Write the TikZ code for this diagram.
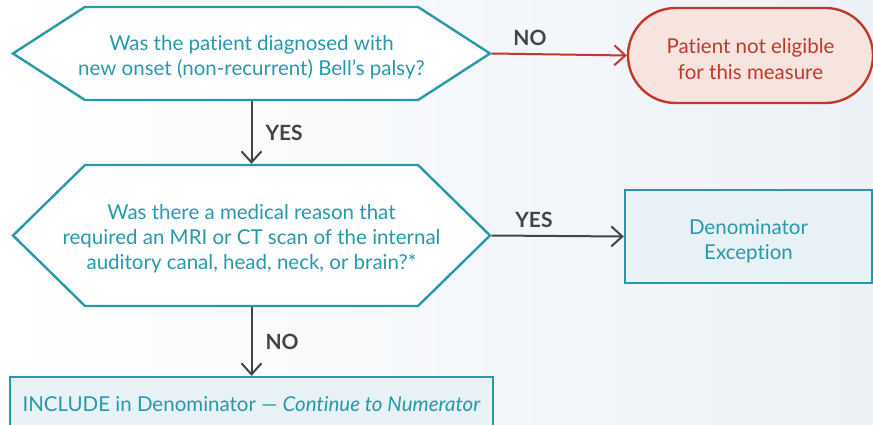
\documentclass[tikz,border=0pt]{standalone}
\usepackage{fontspec}
\setmainfont{Lato}[Ligatures=NoCommon]
\usetikzlibrary{arrows.meta,shapes.symbols}
\definecolor{qteal}{RGB}{38,154,170}
\definecolor{qred}{RGB}{192,57,43}
\definecolor{qpink}{RGB}{248,228,222}
\definecolor{qblue}{RGB}{232,241,245}
\definecolor{qgray}{RGB}{68,68,68}
\newcommand{\qstrut}{\rule{0pt}{22pt}}

\begin{document}
\begin{tikzpicture}[x=1pt,y=-1pt,
  question/.style={shape=signal, signal to=east and west, draw=qteal, line width=2.4pt,
    fill=white, text=qteal, align=center, inner xsep=-40pt, inner ysep=0pt, minimum width=477pt,
    font=\fontsize{20.5}{25}\selectfont},
  outbox/.style={draw=qteal, line width=2.4pt, fill=qblue, text=qteal, align=center,
    font=\fontsize{20.5}{25}\selectfont},
  flow/.style={draw=qgray, line width=2pt, -{Straight Barb[length=11pt,width=20pt,line width=2pt]}},
  answer/.style={text=qgray, inner sep=3pt, font=\bfseries\fontsize{21}{24}\selectfont}]
  \fill[left color=white, right color={rgb,255:red,236;green,241;blue,246}] (0,0) rectangle (873,425);
  \useasboundingbox (0,0) rectangle (873,425);
  \node[question, minimum height=93pt, signal pointer angle=65.8] (bells) at (251.5,53.5)
    {\qstrut Was the patient diagnosed with\\new onset (non-recurrent) Bell’s palsy?};
  \node[question, minimum height=141pt, signal pointer angle=88.8] (imaging) at (251.5,235.5)
    {\qstrut Was there a medical reason that\\required an MRI or CT scan of the internal\\auditory canal, head, neck, or brain?*};
  \node[draw=qred, line width=2.4pt, fill=qpink, text=qred, align=center, rounded corners=47.5pt,
    minimum width=245pt, minimum height=95pt, font=\fontsize{20.5}{26}\selectfont] (noteligible) at (750.5,55.5)
    {\qstrut Patient not eligible\\for this measure};
  \node[outbox, minimum width=247pt, minimum height=93pt] (exception) at (748.5,236.5)
    {\rule{0pt}{24pt}Denominator\\Exception};
  \node[outbox, minimum width=483pt, minimum height=54pt] (include) at (251.5,404)
    {INCLUDE in Denominator — \textit{Continue to Numerator}};
  \draw[flow] (bells.south) -- (imaging.north) node[answer, midway, right=10pt] {YES};
  \draw[flow, draw=qred] (bells.east) -- (noteligible.west) node[answer, pos=0.28, above=4pt] {NO};
  \draw[flow] (imaging.east) -- (exception.west) node[answer, pos=0.32, above=4pt] {YES};
  \draw[flow] (imaging.south) -- (include.north) node[answer, midway, right=10pt] {NO};
\end{tikzpicture}
\end{document}
